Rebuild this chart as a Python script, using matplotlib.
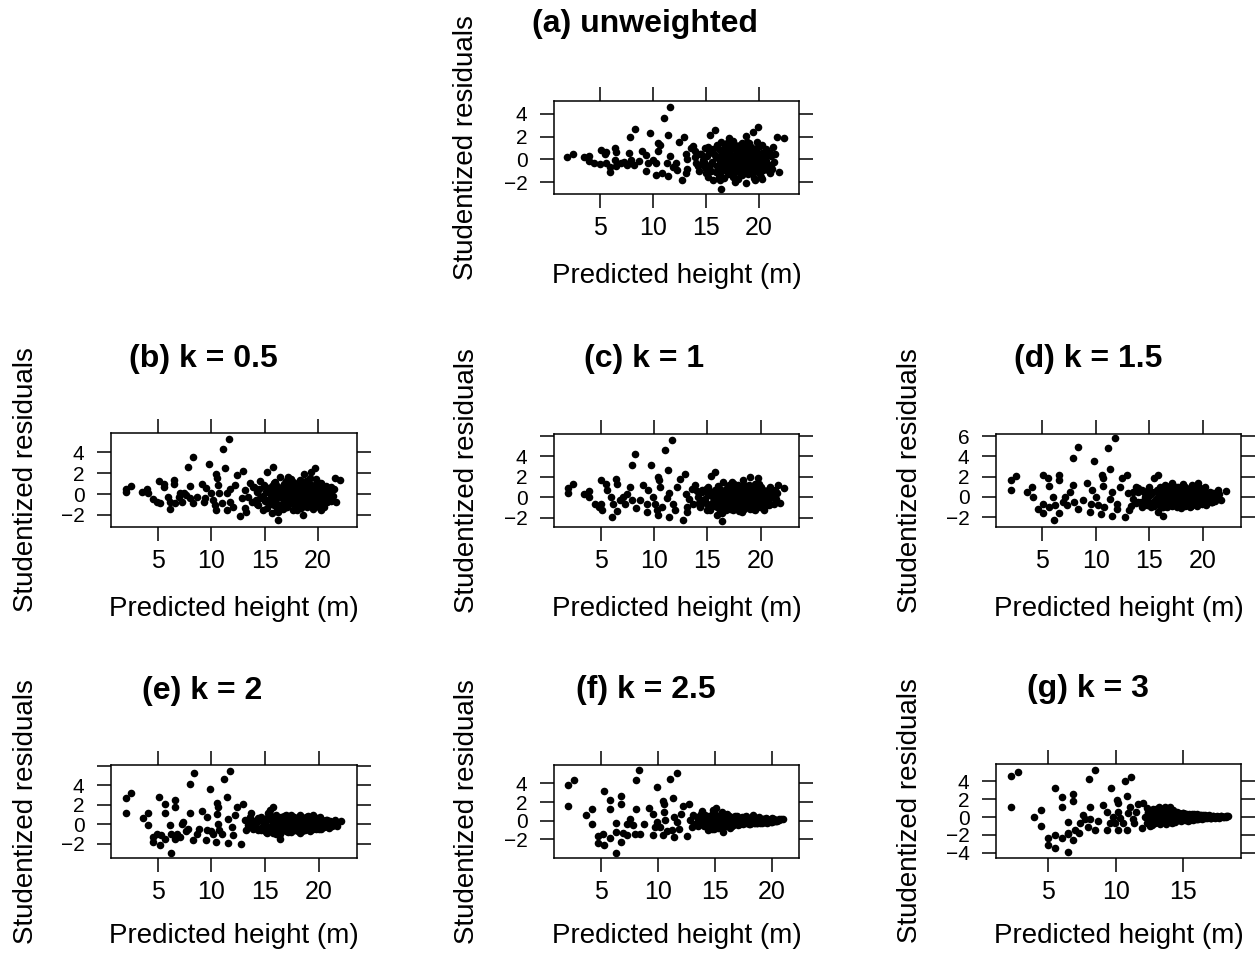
import numpy as np
import matplotlib.pyplot as plt

plt.rcParams["font.family"] = ["Liberation Sans", "DejaVu Sans"]

# (predicted height [m], studentized residual) for each fitted model
unweighted = np.array([
    [1.92, 0.2], [2.45, 0.45], [3.46, 0.2], [3.96, 0.3], [3.96, -0.1], [4.43, -0.35],
    [4.97, -0.4], [5.06, 0.8], [5.6, 0.67], [5.5, 0.45], [5.53, -0.35], [5.9, -0.65],
    [5.97, -1.08], [6.4, -0.05], [6.45, 0.97], [6.48, 0.67], [6.54, -0.55], [7.0, -0.35],
    [7.3, -0.2], [7.5, -0.5], [7.75, 0.58], [7.8, 1.98], [7.96, -0.06], [8.27, 2.7],
    [8.2, -0.5], [8.68, -0.15], [9.0, 0.77], [9.37, 0.39], [9.5, -0.35], [9.37, -0.98],
    [9.75, 2.28], [10.0, -0.06], [10.25, -0.35], [10.3, -1.37], [10.47, 1.4], [10.63, 1.25],
    [10.47, 0.77], [10.88, -1.22], [11.0, 3.6], [11.57, 4.55], [11.32, -0.35], [11.4, 2.13],
    [11.57, 0.3], [11.42, -1.46], [11.9, -0.65], [12.2, -0.35], [12.26, -0.93], [12.45, 1.55],
    [12.7, -1.8], [12.9, 1.98], [13.08, 0.47], [13.15, -1.22], [13.2, -0.8], [13.2, 0.0],
    [13.6, 0.97], [13.77, 1.2], [13.93, 0.23], [14.09, -0.3], [14.4, 0.52], [14.72, -0.06],
    [14.87, -0.65], [15.03, -1.22], [15.2, 1.12], [15.35, 2.13], [15.5, 0.67], [15.8, 2.57],
    [15.66, -1.8], [15.97, 0.23], [16.13, -0.93], [16.3, -1.8], [16.38, -2.6], [16.45, 1.55],
    [16.6, -0.5], [16.76, 0.52], [16.9, -0.06], [17.2, 1.84], [17.4, -0.65], [17.55, -1.5],
    [17.7, -1.95], [17.86, 0.8], [18.0, -0.06], [18.2, -1.22], [18.33, 1.12], [18.5, -0.65],
    [18.74, 2.05], [18.8, -2.1], [18.96, 0.23], [19.1, 1.4], [19.28, -0.93], [19.43, 2.42],
    [19.6, -1.8], [19.75, 0.52], [19.9, 2.86], [20.0, -0.35], [20.1, -1.22], [20.3, 1.25],
    [20.44, -0.65], [20.6, 0.23], [20.85, 0.67], [21.0, -1.22], [21.16, -0.5], [21.7, 1.98],
    [21.9, -1.08], [22.33, 1.9], [21.3, 1.1],
    [15.1, 0.3], [15.4, -0.5], [15.7, 0.9], [15.9, -1.1], [16.1, 0.1], [16.3, -0.3],
    [16.4, 0.7], [16.6, -0.9], [16.8, 1.1], [16.9, -0.2], [17.0, 0.4], [17.1, -1.3],
    [17.2, 0.0], [17.3, 0.8], [17.4, -0.4], [17.5, 0.3], [17.6, -0.8], [17.7, 1.3],
    [17.8, -0.1], [17.9, 0.6], [18.0, -1.0], [18.1, 0.2], [18.2, -0.5], [18.3, 0.9],
    [18.4, -1.4], [18.5, 0.1], [18.6, -0.3], [18.7, 0.7], [18.8, -0.8], [18.9, 1.5],
    [19.0, -0.1], [19.1, 0.4], [19.2, -1.2], [19.3, 0.0], [19.4, 0.8], [19.5, -0.5],
    [19.6, 0.3], [19.7, -0.9], [19.8, 1.0], [19.9, -0.2], [20.0, 0.5], [20.2, -1.5],
    [20.3, 0.1], [20.5, -0.4], [20.7, 0.9], [20.9, -0.7], [21.1, 0.3], [21.4, -0.2],
    [14.2, -0.6], [14.5, 0.5], [14.8, -0.2], [15.2, -1.5], [16.0, 1.3], [16.7, -1.6],
    [17.5, 1.6], [18.0, -1.7], [19.0, 1.2], [19.5, -1.6], [17.2, -0.7], [16.5, 0.4],
    [18.6, 0.4], [17.9, -0.6],
    [15.0, -0.8], [15.3, 0.6], [15.6, -0.2], [15.8, 0.4], [16.0, -0.6], [16.2, 0.9],
    [16.35, -1.2], [16.55, 0.2], [16.7, -0.4], [16.85, 0.6], [16.95, -1.0], [17.05, 1.0],
    [17.15, -0.1], [17.25, 0.5], [17.35, -0.9], [17.45, 1.1], [17.55, -0.3], [17.65, 0.2],
    [17.75, -1.1], [17.85, 0.9], [17.95, -0.3], [18.05, 0.5], [18.15, -0.8], [18.25, 1.3],
    [18.35, -0.1], [18.45, 0.6], [18.55, -1.1], [18.65, 1.0], [18.75, -0.4], [18.85, 0.3],
    [18.95, -1.3], [19.05, 0.7], [19.15, -0.5], [19.25, 1.1], [19.35, -0.7], [19.45, 0.2],
    [19.55, -1.0], [19.65, 0.9], [19.75, -0.3], [19.85, 0.4], [19.95, -1.2], [20.05, 1.2],
    [20.15, -0.6], [20.25, 0.6], [20.4, -0.9], [20.55, 0.4], [20.65, -0.1], [20.8, -0.9],
    [21.0, 0.6], [21.2, -0.8], [21.5, 0.5], [14.0, 0.7], [14.3, -1.0], [14.6, -0.4],
    [14.9, 1.0], [15.5, -1.0], [16.2, -1.5], [17.0, 1.4], [18.4, 1.4], [19.8, 1.5],
    [20.3, -1.7],
])

k05 = np.array([
    [2.04, 0.23], [2.04, 0.52], [2.5, 0.78], [3.5, 0.23], [3.97, 0.46], [4.07, 0.07],
    [4.53, -0.5], [4.9, -0.72], [5.06, 1.28], [5.15, -0.88], [5.6, 0.97], [5.53, 0.71],
    [5.9, -0.25], [6.09, -1.46], [6.15, -0.72], [6.46, 1.35], [6.5, 0.97], [6.62, -0.88],
    [6.93, -0.25], [7.08, 0.07], [7.24, -0.72], [7.46, 0.14], [7.65, -0.09], [7.86, 2.63],
    [7.96, 0.78], [8.0, -0.4], [8.27, -0.88], [8.33, 3.59], [8.64, -0.25], [9.1, 0.97],
    [9.33, -0.72], [9.5, 0.55], [9.4, -0.4], [9.82, 2.87], [9.98, 0.07], [10.2, -0.57],
    [10.35, -1.05], [10.45, -1.5], [10.45, 1.93], [10.57, 1.5], [10.66, 0.87], [10.76, 0.07],
    [10.98, -0.88], [11.13, 4.29], [11.32, 2.46], [11.44, 0.07], [11.44, -1.5], [11.7, 5.28],
    [11.75, 0.46], [11.75, -0.72], [12.07, -1.2], [12.22, 0.87], [12.44, 1.8], [12.69, -2.12],
    [12.84, -0.4], [12.94, 2.2], [13.15, 0.39], [13.15, -1.37], [13.25, -1.7], [13.47, -0.25],
    [13.62, 1.03], [13.78, -0.72], [13.93, 0.71], [14.24, 0.23], [14.4, -1.05], [14.55, 1.22],
    [14.7, -0.25], [14.87, -1.5], [15.02, 0.71], [15.18, 2.16], [15.33, -0.57], [15.5, 0.39],
    [15.64, -1.84], [15.74, 2.63], [15.86, 1.03], [15.96, -0.09], [16.1, -0.88], [16.27, -2.48],
    [16.27, -1.7], [16.42, 1.6], [16.58, 0.39], [16.73, -0.4], [16.9, 0.71], [17.04, -1.2],
    [17.2, 1.67], [17.36, -0.09], [17.5, -0.57], [17.67, -1.5], [17.82, 0.87], [17.98, 0.23],
    [18.13, -0.88], [18.29, 1.35], [18.45, -0.25], [18.6, -1.97], [18.66, 1.93], [18.85, 0.55],
    [19.07, -0.57], [19.22, 1.5], [19.38, 2.16], [19.53, -1.2], [19.7, 2.46], [19.78, 0.07],
    [19.9, 0.71], [20.1, -0.72], [20.3, 1.03], [20.47, -0.25], [20.6, -1.2], [20.78, 0.55],
    [20.94, 0.07], [21.15, -0.4], [21.25, 0.71], [21.56, 1.5], [21.7, -0.76], [22.03, 1.35],
    [15.1, 0.2], [15.4, -0.6], [15.7, 0.8], [15.9, -1.0], [16.1, 0.1], [16.3, -0.3],
    [16.5, 0.6], [16.6, -0.9], [16.8, 1.0], [16.9, -0.2], [17.0, 0.4], [17.1, -1.2],
    [17.2, 0.0], [17.3, 0.7], [17.4, -0.4], [17.5, 0.3], [17.6, -0.8], [17.7, 1.2],
    [17.8, -0.1], [17.9, 0.6], [18.0, -1.0], [18.1, 0.2], [18.2, -0.5], [18.3, 0.9],
    [18.4, -1.3], [18.5, 0.1], [18.6, -0.3], [18.7, 0.7], [18.8, -0.8], [18.9, 1.3],
    [19.0, -0.1], [19.1, 0.4], [19.2, -1.1], [19.3, 0.0], [19.4, 0.8], [19.5, -0.5],
    [19.6, 0.3], [19.7, -0.9], [19.8, 1.0], [19.9, -0.2], [20.0, 0.5], [20.2, -1.3],
    [20.3, 0.1], [20.5, -0.4], [20.7, 0.8], [20.9, -0.7], [21.1, 0.3], [21.4, -0.2],
    [14.2, -0.6], [14.5, 0.5], [14.8, -0.2], [15.2, -1.3], [16.0, 1.2], [16.7, -1.4],
    [17.5, 1.4], [18.0, -1.5], [19.0, 1.1], [19.5, -1.4], [17.2, -0.7], [16.5, 0.4],
    [18.6, 0.4], [17.9, -0.6],
    [15.0, -0.7], [15.3, 0.6], [15.6, -0.2], [15.8, 0.4], [16.0, -0.6], [16.2, 0.8],
    [16.35, -1.1], [16.55, 0.2], [16.7, -0.4], [16.85, 0.6], [16.95, -0.9], [17.05, 0.9],
    [17.15, -0.1], [17.25, 0.5], [17.35, -0.8], [17.45, 1.0], [17.55, -0.3], [17.65, 0.2],
    [17.75, -1.0], [17.85, 0.8], [17.95, -0.3], [18.05, 0.5], [18.15, -0.8], [18.25, 1.2],
    [18.35, -0.1], [18.45, 0.6], [18.55, -1.0], [18.65, 0.9], [18.75, -0.4], [18.85, 0.3],
    [18.95, -1.2], [19.05, 0.7], [19.15, -0.5], [19.25, 1.0], [19.35, -0.7], [19.45, 0.2],
    [19.55, -0.9], [19.65, 0.8], [19.75, -0.3], [19.85, 0.4], [19.95, -1.1], [20.05, 1.1],
    [20.15, -0.6], [20.25, 0.6], [20.4, -0.8], [20.55, 0.4], [20.65, -0.1], [20.8, -0.8],
    [21.0, 0.6], [21.2, -0.7], [21.5, 0.5], [14.0, 0.7], [14.3, -0.9], [14.6, -0.4],
    [14.9, 0.9], [15.5, -0.9], [16.2, -1.4], [17.0, 1.3], [18.4, 1.3], [19.8, 1.4],
    [20.3, -1.5],
])

k1 = np.array([
    [1.9, 0.95], [1.9, 0.43], [2.44, 1.34], [3.44, 0.37], [3.94, 0.63], [3.94, 0.04],
    [4.47, -0.61], [4.88, -0.93], [5.0, -0.61], [5.1, -1.26], [5.0, 1.73], [5.47, 1.28],
    [5.56, 0.76], [5.94, 0.04], [6.03, -1.91], [6.13, -0.61], [6.44, 1.76], [6.5, 1.34],
    [6.5, -1.32], [6.81, -0.28], [7.06, 0.04], [7.28, -0.61], [7.5, 0.37], [7.75, 1.02],
    [7.9, 3.17], [7.9, -0.28], [8.22, 4.24], [8.31, -1.03], [8.69, -0.28], [9.0, 1.18],
    [9.31, -0.61], [9.38, -1.42], [9.47, 0.69], [9.72, 3.17], [9.88, 0.04], [10.1, -0.61],
    [10.25, -1.26], [10.4, -1.75], [10.4, 1.99], [10.5, 1.67], [10.56, 1.02], [10.72, -0.93],
    [11.03, 4.65], [11.19, -0.05], [11.34, 2.7], [11.44, 0.43], [11.44, -1.91], [11.66, 5.62],
    [11.81, -0.61], [11.97, -1.26], [12.19, 1.02], [12.44, 1.83], [12.69, -2.16], [12.9, 2.3],
    [13.0, 0.37], [13.06, -1.42], [13.13, -0.93], [13.31, -0.12], [13.53, 0.85], [13.69, -0.61],
    [13.84, 1.18], [14.16, 0.04], [14.3, -0.93], [14.47, 0.69], [14.63, -0.28], [14.94, -1.26],
    [15.1, 1.02], [15.3, 2.13], [15.5, 0.04], [15.72, 2.48], [15.88, -1.75], [16.03, -0.44],
    [16.2, 0.69], [16.34, -1.52], [16.34, -2.29], [16.5, 1.5], [16.66, 0.04], [16.81, -0.93],
    [16.97, 1.02], [17.13, -0.28], [17.28, 1.5], [17.44, -1.26], [17.6, 0.37], [17.75, -0.61],
    [17.9, 1.18], [18.06, -0.12], [18.22, -1.42], [18.38, 1.67], [18.53, 0.53], [18.69, -0.61],
    [18.84, 1.02], [19.0, 1.99], [19.16, -0.12], [19.31, -1.09], [19.47, 1.34], [19.63, 0.37],
    [19.78, 1.89], [19.94, -0.44], [20.19, 0.69], [20.4, 0.04], [20.63, -0.77], [20.88, 1.02],
    [21.03, 0.04], [21.34, 0.69], [21.66, 1.18], [21.81, -0.5], [22.22, 0.95],
    [15.1, 0.2], [15.4, -0.5], [15.7, 0.7], [15.9, -0.9], [16.1, 0.1], [16.3, -0.3],
    [16.5, 0.6], [16.6, -0.8], [16.8, 0.9], [16.9, -0.2], [17.0, 0.4], [17.1, -1.1],
    [17.2, 0.0], [17.3, 0.7], [17.4, -0.4], [17.5, 0.3], [17.6, -0.7], [17.7, 1.1],
    [17.8, -0.1], [17.9, 0.5], [18.0, -0.9], [18.1, 0.2], [18.2, -0.4], [18.3, 0.8],
    [18.4, -1.1], [18.5, 0.1], [18.6, -0.3], [18.7, 0.6], [18.8, -0.7], [18.9, 1.2],
    [19.0, -0.1], [19.1, 0.4], [19.2, -0.9], [19.3, 0.0], [19.4, 0.7], [19.5, -0.4],
    [19.6, 0.3], [19.7, -0.8], [19.8, 0.9], [19.9, -0.2], [20.0, 0.5], [20.2, -1.0],
    [20.3, 0.1], [20.5, -0.4], [20.7, 0.7], [20.9, -0.6], [21.1, 0.3], [21.4, -0.2],
    [14.2, -0.5], [14.5, 0.5], [14.8, -0.2], [15.2, -1.2], [16.0, 1.1], [16.7, -1.2],
    [17.5, 1.3], [18.0, -1.3], [19.0, 1.0], [19.5, -1.2], [17.2, -0.6], [16.5, 0.4],
    [18.6, 0.4], [17.9, -0.5],
    [15.0, -0.6], [15.3, 0.5], [15.6, -0.2], [15.8, 0.4], [16.0, -0.5], [16.2, 0.8],
    [16.35, -1.0], [16.55, 0.2], [16.7, -0.4], [16.85, 0.6], [16.95, -0.8], [17.05, 0.9],
    [17.15, -0.1], [17.25, 0.5], [17.35, -0.7], [17.45, 1.0], [17.55, -0.3], [17.65, 0.2],
    [17.75, -0.9], [17.85, 0.8], [17.95, -0.3], [18.05, 0.5], [18.15, -0.7], [18.25, 1.1],
    [18.35, -0.1], [18.45, 0.6], [18.55, -0.9], [18.65, 0.9], [18.75, -0.4], [18.85, 0.3],
    [18.95, -1.1], [19.05, 0.7], [19.15, -0.5], [19.25, 0.9], [19.35, -0.6], [19.45, 0.2],
    [19.55, -0.8], [19.65, 0.8], [19.75, -0.3], [19.85, 0.4], [19.95, -0.9], [20.05, 1.0],
    [20.15, -0.5], [20.25, 0.6], [20.4, -0.7], [20.55, 0.4], [20.65, -0.1], [20.8, -0.7],
    [21.0, 0.5], [21.2, -0.6], [21.5, 0.4], [14.0, 0.6], [14.3, -0.8], [14.6, -0.4],
    [14.9, 0.8], [15.5, -0.8], [16.2, -1.3], [17.0, 1.2], [18.4, 1.2], [19.8, 1.3],
    [20.3, -1.2],
])

k15 = np.array([
    [2.04, 1.65], [2.04, 0.73], [2.54, 2.08], [3.53, 0.5], [4.0, 1.0], [4.1, 0.0],
    [4.63, -1.14], [5.1, -1.57], [5.1, 2.15], [5.1, -0.65], [5.56, 1.82], [5.62, 1.1],
    [5.65, -0.98], [6.03, 0.0], [6.09, -2.3], [6.18, -0.8], [6.59, 2.15], [6.59, 1.65],
    [6.59, -1.57], [6.9, -0.48], [7.12, 0.0], [7.34, -0.8], [7.6, 0.5], [7.84, 1.17],
    [7.9, 3.8], [7.96, -0.48], [8.37, 4.95], [8.37, -1.14], [8.84, -0.32], [9.15, 1.33],
    [9.46, -1.48], [9.52, -0.65], [9.7, 0.73], [9.86, 3.54], [10.0, 0.0], [10.24, -0.8],
    [10.46, -1.64], [10.55, 2.15], [10.64, 1.82], [10.7, 1.06], [10.77, -0.98], [11.17, 4.78],
    [11.33, 2.8], [11.33, -0.16], [11.48, 0.5], [11.48, -1.9], [11.8, 5.78], [11.95, -0.65],
    [12.0, -1.14], [12.26, 1.0], [12.5, 1.82], [12.73, -1.97], [12.95, 2.15], [13.04, 0.34],
    [13.14, -1.3], [13.26, -0.9], [13.51, -0.16], [13.76, 1.0], [13.98, -0.48], [14.3, 0.67],
    [14.6, 0.0], [14.76, -0.8], [15.0, 1.0], [15.23, 0.34], [15.45, 1.9], [15.63, -0.32],
    [15.8, 2.15], [15.85, -1.48], [16.0, 0.67], [16.32, -1.9], [16.32, -0.98], [16.48, 1.17],
    [16.63, 0.0], [16.8, -0.65], [16.95, 0.34], [17.1, 1.33], [17.26, -0.32], [17.42, 0.67],
    [17.57, -0.98], [17.73, 1.0], [17.9, 0.0], [18.05, -0.65], [18.2, 1.26], [18.37, 0.34],
    [18.52, -0.32], [18.68, 0.83], [18.83, -0.98], [19.0, 1.17], [19.13, 0.0], [19.3, -0.48],
    [19.44, 0.67], [19.6, 1.4], [19.75, -0.16], [20.0, 0.34], [20.2, 1.0], [20.53, 0.0],
    [20.84, -0.48], [21.15, 0.34], [21.46, 0.67], [21.77, -0.32], [22.24, 0.57],
    [15.1, 0.2], [15.4, -0.5], [15.7, 0.7], [15.9, -0.8], [16.1, 0.1], [16.3, -0.3],
    [16.5, 0.6], [16.6, -0.7], [16.8, 0.8], [16.9, -0.2], [17.0, 0.4], [17.1, -0.9],
    [17.2, 0.0], [17.3, 0.6], [17.4, -0.4], [17.5, 0.3], [17.6, -0.6], [17.7, 0.9],
    [17.8, -0.1], [17.9, 0.5], [18.0, -0.8], [18.1, 0.2], [18.2, -0.4], [18.3, 0.7],
    [18.4, -0.9], [18.5, 0.1], [18.6, -0.3], [18.7, 0.5], [18.8, -0.6], [18.9, 0.9],
    [19.0, -0.1], [19.1, 0.3], [19.2, -0.7], [19.3, 0.0], [19.4, 0.6], [19.5, -0.3],
    [19.6, 0.2], [19.7, -0.6], [19.8, 0.7], [19.9, -0.2], [20.0, 0.4], [20.2, -0.7],
    [20.3, 0.1], [20.5, -0.3], [20.7, 0.5], [20.9, -0.5], [21.1, 0.2], [21.4, -0.1],
    [14.2, -0.5], [14.5, 0.5], [14.8, -0.2], [15.2, -1.0], [16.0, 1.0], [16.7, -1.0],
    [17.5, 1.0], [18.0, -1.1], [19.0, 0.8], [19.5, -0.9], [17.2, -0.5], [16.5, 0.3],
    [18.6, 0.3], [17.9, -0.4], [13.5, 0.5], [13.8, -0.6], [14.0, 0.9], [14.3, -1.0],
    [15.0, -0.6], [15.3, 0.5], [15.6, -0.2], [15.8, 0.4], [16.0, -0.5], [16.2, 0.7],
    [16.35, -0.9], [16.55, 0.2], [16.7, -0.4], [16.85, 0.5], [16.95, -0.7], [17.05, 0.8],
    [17.15, -0.1], [17.25, 0.4], [17.35, -0.6], [17.45, 0.9], [17.55, -0.3], [17.65, 0.2],
    [17.75, -0.8], [17.85, 0.7], [17.95, -0.3], [18.05, 0.4], [18.15, -0.6], [18.25, 0.9],
    [18.35, -0.1], [18.45, 0.5], [18.55, -0.8], [18.65, 0.7], [18.75, -0.4], [18.85, 0.3],
    [18.95, -0.9], [19.05, 0.6], [19.15, -0.4], [19.25, 0.8], [19.35, -0.5], [19.45, 0.2],
    [19.55, -0.7], [19.65, 0.6], [19.75, -0.3], [19.85, 0.3], [19.95, -0.7], [20.05, 0.7],
    [20.15, -0.4], [20.25, 0.5], [20.4, -0.5], [20.55, 0.3], [20.65, -0.1], [20.8, -0.5],
    [21.0, 0.4], [21.2, -0.4], [21.5, 0.3], [14.0, 0.5], [14.3, -0.7], [14.6, -0.3],
    [14.9, 0.7], [15.5, -0.9], [16.2, -1.0], [17.0, 1.1], [18.4, 1.0], [19.8, 0.9],
    [20.3, -0.8],
])

k2 = np.array([
    [2.06, 2.63], [2.06, 1.16], [2.53, 3.14], [3.6, 0.64], [4.07, 1.09], [4.13, -0.11],
    [4.54, -1.31], [4.6, -1.83], [4.9, -1.04], [5.15, 2.8], [5.22, -2.1], [5.28, -1.14],
    [5.68, 2.05], [5.68, 1.16], [5.68, -1.49], [6.14, -0.11], [6.2, -2.96], [6.2, -0.97],
    [6.6, 2.46], [6.6, 1.77], [6.6, -1.49], [6.76, -0.97], [7.07, -1.31], [7.23, 0.0],
    [7.38, 0.23], [7.63, -0.7], [7.85, -0.46], [8.0, 4.1], [8.0, 1.16], [8.25, -1.66],
    [8.4, 5.27], [8.62, -0.97], [8.87, -0.46], [9.14, 1.36], [9.48, -1.66], [9.55, 0.74],
    [9.55, -0.63], [9.86, 3.56], [9.92, -0.7], [10.17, -0.97], [10.41, -1.83], [10.54, 2.12],
    [10.57, 1.77], [10.54, 1.02], [10.63, 0.0], [10.72, -0.56], [11.0, -1.04], [11.15, 4.67],
    [11.4, 2.74], [11.5, 0.47], [11.5, -1.93], [11.72, 5.44], [11.87, -0.28], [12.02, -1.14],
    [12.18, 0.92], [12.33, 1.71], [12.7, -2.0], [12.95, 2.05], [13.1, 0.4], [13.2, -0.63],
    [13.41, -0.11], [13.57, 0.74], [13.72, 1.09], [13.88, -0.28], [14.19, 0.23], [14.34, -0.63],
    [14.65, 0.74], [14.96, -0.11], [15.11, -0.8], [15.27, 1.09], [15.42, 1.43], [15.58, -0.28],
    [15.73, 1.77], [15.89, 0.4], [16.04, -0.97], [16.35, -1.56], [16.35, -0.28], [16.5, 0.74],
    [16.66, 0.23], [16.82, -0.46], [16.97, 0.92], [17.13, -0.11], [17.28, 0.4], [17.44, -0.8],
    [17.6, 0.74], [17.75, -0.28], [17.9, 0.16], [18.05, -0.63], [18.2, 0.92], [18.36, -0.11],
    [18.52, 0.47], [18.67, -0.46], [18.83, 0.74], [19.0, 0.06], [19.13, -0.7], [19.3, 0.47],
    [19.44, 0.92], [19.6, -0.22], [19.75, 0.23], [20.0, -0.46], [20.13, 0.74], [20.37, 0.06],
    [20.62, 0.4], [20.84, -0.11], [21.05, 0.23], [21.46, 0.4], [21.67, -0.22], [22.07, 0.3],
    [14.2, -0.4], [14.5, 0.5], [14.8, -0.2], [15.1, 0.3], [15.3, -0.6], [15.5, 0.8],
    [15.7, -0.9], [15.9, 0.1], [16.1, -0.3], [16.3, 0.6], [16.5, -0.7], [16.7, 0.8],
    [16.8, -0.2], [17.0, 0.4], [17.1, -0.8], [17.2, 0.0], [17.3, 0.6], [17.4, -0.4],
    [17.5, 0.3], [17.6, -0.6], [17.7, 0.7], [17.8, -0.1], [17.9, 0.5], [18.0, -0.7],
    [18.1, 0.2], [18.2, -0.4], [18.3, 0.6], [18.4, -0.7], [18.5, 0.1], [18.6, -0.3],
    [18.7, 0.5], [18.8, -0.5], [18.9, 0.7], [19.0, -0.1], [19.1, 0.3], [19.2, -0.6],
    [19.3, 0.0], [19.4, 0.5], [19.5, -0.3], [19.6, 0.2], [19.7, -0.5], [19.8, 0.6],
    [19.9, -0.2], [20.0, 0.3], [20.2, -0.5], [20.3, 0.1], [20.5, -0.3], [20.7, 0.4],
    [20.9, -0.4], [21.1, 0.2], [21.3, -0.1], [21.6, 0.1], [13.6, 0.6], [13.9, -0.5],
    [14.0, 0.2], [16.0, 0.9], [16.4, -1.0], [17.4, 0.9], [18.2, -0.9], [19.0, 0.8],
    [15.2, -0.9], [16.9, -0.5],
    [14.3, 0.6], [14.6, -0.6], [14.9, 0.2], [15.2, 0.6], [15.4, -0.3], [15.6, 0.3],
    [15.8, -0.6], [16.0, 0.5], [16.2, -0.1], [16.4, 0.3], [16.6, -0.5], [16.8, 0.6],
    [16.9, -0.7], [17.05, 0.2], [17.2, -0.4], [17.35, 0.7], [17.5, -0.2], [17.65, 0.4],
    [17.8, -0.6], [17.95, 0.3], [18.1, -0.2], [18.25, 0.7], [18.4, -0.4], [18.55, 0.3],
    [18.7, -0.6], [18.85, 0.2], [19.0, 0.6], [19.15, -0.4], [19.3, 0.3], [19.45, -0.5],
    [19.6, 0.5], [19.75, -0.1], [19.9, 0.4], [20.1, -0.3], [20.25, 0.4], [20.4, -0.2],
    [20.6, 0.2], [20.8, -0.3], [21.0, 0.35], [21.2, -0.2], [21.4, 0.25], [15.0, -0.5],
    [13.9, 0.3], [13.7, -0.2],
])

k25 = np.array([
    [2.09, 3.82], [2.09, 1.6], [2.62, 4.36], [3.62, 0.59], [4.21, 1.23], [4.21, -0.38],
    [4.74, -1.68], [4.74, -2.4], [5.18, -1.46], [5.26, 3.17], [5.26, -2.65], [5.76, 2.27],
    [5.76, 1.23], [5.76, -1.86], [6.29, -0.24], [6.29, -3.48], [6.29, -1.21], [6.73, 2.63],
    [6.73, 1.84], [6.73, -2.29], [6.88, -1.33], [7.23, -1.58], [7.23, -0.31], [7.52, 0.23],
    [7.76, -0.49], [7.96, -1.39], [8.05, 4.33], [8.05, 1.2], [8.35, 5.4], [8.4, -1.39],
    [8.76, -0.38], [9.23, 1.41], [9.52, -1.58], [9.52, 0.69], [9.73, -0.67], [9.87, 3.56],
    [9.93, -0.13], [10.17, -0.67], [10.4, -1.58], [10.46, 2.13], [10.52, 1.77], [10.52, 0.95],
    [10.6, 0.05], [10.75, -1.1], [11.05, 4.43], [11.2, -1.03], [11.34, 2.48], [11.4, 0.41],
    [11.4, -1.75], [11.63, 5.08], [11.7, -0.13], [11.87, -0.85], [12.0, 0.77], [12.22, 1.56],
    [12.5, -1.68], [12.75, 1.84], [12.8, 0.05], [12.95, -0.67], [13.1, 0.59], [13.25, -0.31],
    [13.54, 0.23], [13.83, 0.69], [14.0, -0.49], [14.28, -0.13], [14.57, 0.41], [14.72, -0.85],
    [14.86, 1.13], [15.1, 1.41], [15.2, 0.05], [15.4, -0.67], [15.6, 0.59], [15.74, -1.21],
    [15.9, -0.31], [16.1, 0.34], [16.33, -0.02], [16.57, -0.49], [16.77, 0.48], [16.98, 0.05],
    [17.2, -0.31], [17.44, 0.34], [17.65, -0.13], [17.86, 0.23], [18.1, -0.38], [18.33, 0.59],
    [18.53, 0.05], [18.74, -0.24], [18.9, 0.41], [19.1, -0.02], [19.4, 0.19], [19.7, -0.13],
    [20.0, 0.34], [20.3, -0.02], [20.6, 0.23], [21.03, 0.19],
    [13.4, 0.4], [13.6, -0.3], [13.8, 0.7], [14.0, -0.6], [14.1, 0.1], [14.3, -0.2],
    [14.5, 0.5], [14.7, -0.7], [14.8, 0.8], [15.0, -0.3], [15.1, 0.3], [15.3, -0.8],
    [15.4, 0.0], [15.5, 0.6], [15.7, -0.4], [15.8, 0.3], [16.0, -0.6], [16.1, 0.7],
    [16.2, -0.1], [16.4, 0.4], [16.5, -0.6], [16.6, 0.2], [16.7, -0.3], [16.9, 0.5],
    [17.0, -0.5], [17.1, 0.1], [17.3, -0.2], [17.4, 0.4], [17.5, -0.4], [17.7, 0.5],
    [17.8, 0.0], [17.9, 0.3], [18.0, -0.4], [18.2, 0.1], [18.3, 0.4], [18.4, -0.3],
    [18.6, 0.2], [18.7, -0.2], [18.8, 0.3], [19.0, -0.3], [19.2, 0.2], [19.3, -0.1],
    [19.5, 0.3], [19.6, -0.2], [19.8, 0.1], [20.0, -0.1], [20.1, 0.2], [20.4, 0.0],
    [20.6, 0.1], [20.8, 0.15], [14.9, -0.9], [15.6, 0.9], [16.3, -0.8], [13.9, 1.0],
    [14.4, -1.0],
    [13.5, -0.6], [13.7, 0.5], [13.9, -0.1], [14.1, 0.6], [14.2, -0.5], [14.4, 0.3],
    [14.6, -0.4], [14.75, 0.4], [14.9, -0.1], [15.05, 0.7], [15.2, -0.5], [15.35, 0.3],
    [15.5, -0.2], [15.65, 0.5], [15.8, -0.5], [15.95, 0.2], [16.1, -0.3], [16.25, 0.5],
    [16.4, -0.4], [16.55, 0.1], [16.7, 0.4], [16.85, -0.3], [17.0, 0.3], [17.15, -0.4],
    [17.3, 0.2], [17.45, -0.1], [17.6, 0.35], [17.75, -0.3], [17.9, 0.1], [18.05, 0.3],
    [18.2, -0.25], [18.35, 0.2], [18.5, -0.2], [18.65, 0.25], [18.8, -0.1], [18.95, 0.2],
    [19.1, -0.2], [19.25, 0.15], [19.4, -0.1], [19.55, 0.2], [19.7, 0.05], [19.9, -0.1],
    [20.2, 0.15], [20.5, -0.05],
])

k3 = np.array([
    [2.28, 4.64], [2.28, 1.18], [2.79, 5.01], [3.95, 0.06], [4.49, 0.81], [4.49, -1.0],
    [5.0, -2.38], [5.0, -3.14], [5.54, 3.25], [5.54, -2.0], [5.54, -3.44], [6.03, 2.23],
    [6.03, 1.18], [6.03, -2.38], [6.47, -0.5], [6.47, -3.96], [6.47, -1.75], [6.52, -1.93],
    [6.89, 2.61], [6.89, 1.75], [6.89, -2.57], [7.01, -1.45], [7.33, -1.82], [7.38, -0.69],
    [7.62, 0.24], [7.75, -0.24], [7.99, -1.07], [8.06, 4.26], [8.11, 1.18], [8.48, 5.31],
    [8.11, -0.24], [8.48, -1.45], [8.73, -0.39], [9.04, 1.37], [9.34, -1.45], [9.39, 0.62],
    [9.58, -0.69], [9.66, 3.32], [9.83, 0.06], [9.95, -0.62], [10.2, -1.45], [10.12, 1.93],
    [10.2, 1.56], [10.2, 0.62], [10.32, -0.13], [10.51, -0.69], [10.69, 4.0], [10.81, -1.45],
    [10.86, 2.31], [10.93, 0.43], [11.05, 1.18], [11.1, 4.49], [11.25, -0.24], [11.35, -0.69],
    [11.5, 0.62], [11.67, 1.48], [11.91, -1.26], [12.03, 1.63], [12.16, 0.06], [12.28, -0.69],
    [12.4, 0.62], [12.57, -0.32], [12.72, 0.88], [12.9, 0.24], [13.06, -0.5], [13.26, 0.62],
    [13.45, 0.06], [13.63, 1.18], [13.75, -0.24], [13.95, 0.43], [14.12, -0.62], [14.24, 0.81],
    [14.44, 0.06], [14.6, -0.32], [14.85, 0.24], [15.02, -0.13], [15.22, 0.36], [15.47, -0.24],
    [15.71, 0.13], [15.96, -0.17], [16.2, 0.24], [16.5, -0.02], [16.81, 0.13], [17.06, -0.09],
    [17.43, 0.06], [17.79, 0.13], [18.16, 0.06],
    [12.4, 0.5], [12.6, -0.4], [12.8, 0.8], [12.9, -0.7], [13.0, 0.2], [13.1, -0.2],
    [13.2, 0.6], [13.3, -0.6], [13.4, 0.9], [13.5, -0.3], [13.6, 0.4], [13.7, -0.8],
    [13.8, 0.1], [13.9, 0.7], [14.0, -0.5], [14.1, 0.3], [14.2, -0.3], [14.3, 0.6],
    [14.4, -0.6], [14.5, 0.2], [14.6, -0.2], [14.7, 0.5], [14.8, -0.4], [14.9, 0.1],
    [15.0, 0.4], [15.1, -0.3], [15.2, 0.2], [15.3, -0.4], [15.4, 0.3], [15.5, -0.1],
    [15.6, 0.35], [15.7, -0.3], [15.8, 0.15], [15.9, -0.2], [16.0, 0.3], [16.1, -0.1],
    [16.3, 0.25], [16.4, -0.25], [16.6, 0.2], [16.7, -0.15], [16.9, 0.2], [17.0, -0.1],
    [17.2, 0.15], [17.3, -0.15], [17.5, 0.1], [17.6, -0.1], [17.8, 0.1], [17.9, -0.05],
    [18.1, 0.12], [18.3, 0.08], [12.5, -1.0], [13.2, 1.1], [14.0, 1.1], [12.3, 1.0],
    [12.7, -0.9],
    [12.5, 0.2], [12.65, -0.6], [12.75, 0.6], [12.85, -0.2], [12.95, 0.9], [13.05, -0.5],
    [13.15, 0.3], [13.25, -0.8], [13.35, 0.5], [13.45, -0.1], [13.55, 0.8], [13.65, -0.5],
    [13.75, 0.3], [13.85, -0.3], [13.95, 0.9], [14.05, -0.2], [14.15, 0.5], [14.25, -0.5],
    [14.35, 0.2], [14.45, -0.35], [14.55, 0.6], [14.65, -0.1], [14.75, 0.3], [14.85, -0.3],
    [14.95, 0.4], [15.05, -0.2], [15.15, 0.3], [15.25, -0.1], [15.35, 0.25], [15.45, -0.3],
    [15.55, 0.2], [15.65, -0.15], [15.75, 0.3], [15.85, -0.1], [15.95, 0.2], [16.05, -0.2],
    [16.25, 0.1], [16.45, 0.2], [16.55, -0.1], [16.75, 0.15], [16.95, -0.1], [17.15, 0.1],
    [17.4, -0.05], [17.7, 0.05], [18.0, 0.0], [18.2, 0.1],
])

titles = ["(a) unweighted", "(b) k = 0.5", "(c) k = 1", "(d) k = 1.5",
          "(e) k = 2", "(f) k = 2.5", "(g) k = 3"]
fits = [unweighted, k05, k1, k15, k2, k25, k3]

M = "\u2212"
W, H = 1260, 959

# panel frames in pixels (left, top, right, bottom) and axis settings
layout = [
    dict(rect=(554, 101, 799, 194), xlim=(0.66, 23.77), ylim=(-3.02, 5.11),
         xt=[5, 10, 15, 20], yt=[-2, 0, 2, 4], ytl=[M + "2", "0", "2", "4"],
         tpos=(645, 24), ylx=466, xly=276),
    dict(rect=(111, 433, 357, 527), xlim=(0.6, 23.65), ylim=(-3.15, 5.85),
         xt=[5, 10, 15, 20], yt=[-2, 0, 2, 4], ytl=[M + "2", "0", "2", "4"],
         tpos=(203, 359), ylx=26, xly=609),
    dict(rect=(554, 434, 799, 527), xlim=(0.62, 23.59), ylim=(-2.88, 6.17),
         xt=[5, 10, 15, 20], yt=[-2, 0, 2, 4, 6], ytl=[M + "2", "0", "2", "4", ""],
         tpos=(644, 359), ylx=467, xly=609),
    dict(rect=(996, 434, 1241, 527), xlim=(0.67, 23.6), ylim=(-2.96, 6.2),
         xt=[5, 10, 15, 20], yt=[-2, 0, 2, 4, 6], ytl=[M + "2", "0", "2", "4", "6"],
         tpos=(1088, 359), ylx=910, xly=609),
    dict(rect=(111, 765, 357, 858), xlim=(0.66, 23.53), ylim=(-3.48, 6.06),
         xt=[5, 10, 15, 20], yt=[-2, 0, 2, 4, 6], ytl=[M + "2", "0", "2", "4", ""],
         tpos=(202, 691), ylx=26, xly=936),
    dict(rect=(554, 765, 799, 858), xlim=(0.84, 22.4), ylim=(-4.0, 5.97),
         xt=[5, 10, 15, 20], yt=[-2, 0, 2, 4], ytl=[M + "2", "0", "2", "4"],
         tpos=(646, 690), ylx=467, xly=936),
    dict(rect=(996, 764, 1241, 858), xlim=(1.18, 19.24), ylim=(-4.6, 5.96),
         xt=[5, 10, 15], yt=[-4, -2, 0, 2, 4], ytl=[M + "4", M + "2", "0", "2", "4"],
         tpos=(1088, 689), ylx=910, xly=936),
]

fig = plt.figure(figsize=(W / 100, H / 100), dpi=100)

for title, pts, p in zip(titles, fits, layout):
    l, t, r, b = p["rect"]
    ax = fig.add_axes([l / W, 1 - b / H, (r - l) / W, (b - t) / H])
    ax.scatter(pts[:, 0], pts[:, 1], s=30, c="black", linewidths=0)
    ax.set_xlim(p["xlim"])
    ax.set_ylim(p["ylim"])
    ax.set_xticks(p["xt"])
    ax.set_yticks(p["yt"])
    ax.set_yticklabels(p["ytl"])
    ax.tick_params(direction="out", length=10, width=1.1, top=True, right=True,
                   labeltop=False, labelright=False)
    ax.tick_params(axis="x", labelsize=18, pad=6)
    ax.tick_params(axis="y", labelsize=15, pad=9)
    for s in ax.spines.values():
        s.set_linewidth(1.1)

    fig.text(p["tpos"][0] / W, 1 - p["tpos"][1] / H, title,
             ha="center", va="center", fontsize=23, fontweight="bold")
    fig.text(p["ylx"] / W, 1 - (t + b) / 2 / H, "Studentized residuals",
             rotation=90, ha="center", va="center", fontsize=20)
    fig.text((l + r) / 2 / W, 1 - p["xly"] / H, "Predicted height (m)",
             ha="center", va="center", fontsize=20)

fig.savefig("out.png", dpi=100)
